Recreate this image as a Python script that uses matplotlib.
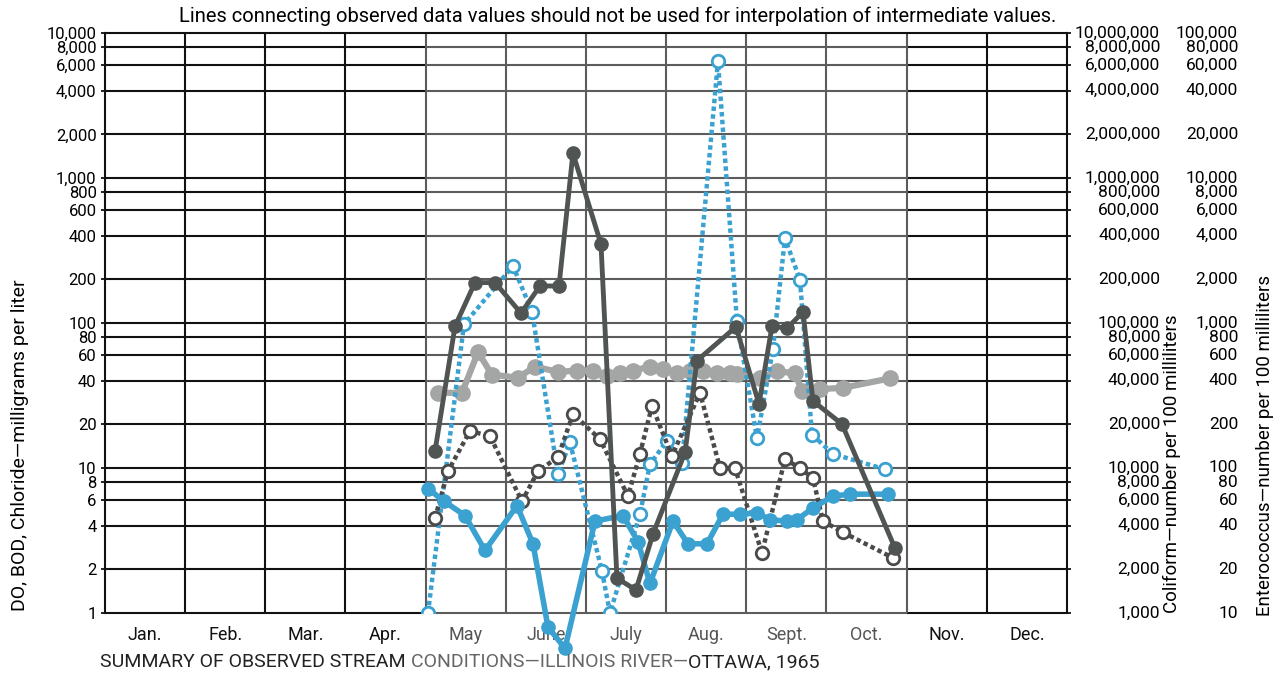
import matplotlib
matplotlib.use('Agg')
import matplotlib.pyplot as plt
import numpy as np

plt.rcParams['font.family'] = ['Roboto', 'DejaVu Sans']

# DATA (x = position in months from Jan 1, values in left-axis units)
months = ['Jan.', 'Feb.', 'Mar.', 'Apr.', 'May', 'June', 'July', 'Aug.', 'Sept.', 'Oct.', 'Nov.', 'Dec.']
left_ticks = [1, 2, 4, 6, 8, 10, 20, 40, 60, 80, 100, 200, 400, 600, 800, 1000, 2000, 4000, 6000, 8000, 10000]
left_labels = ['1', '2', '4', '6', '8', '10', '20', '40', '60', '80', '100', '200', '400', '600', '800',
               '1,000', '2,000', '4,000', '6,000', '8,000', '10,000']
coliform_labels = ['1,000', '2,000', '4,000', '6,000', '8,000', '10,000', '20,000', '40,000', '60,000', '80,000',
                   '100,000', '200,000', '400,000', '600,000', '800,000', '1,000,000', '2,000,000', '4,000,000',
                   '6,000,000', '8,000,000', '10,000,000']
entero_labels = ['10', '20', '40', '60', '80', '100', '200', '400', '600', '800', '1,000', '2,000', '4,000',
                 '6,000', '8,000', '10,000', '20,000', '40,000', '60,000', '80,000', '100,000']

chloride_x = [4.154, 4.453, 4.653, 4.827, 5.152, 5.364, 5.651, 5.888, 6.087, 6.262, 6.424, 6.586, 6.798, 6.960,
              7.135, 7.297, 7.459, 7.634, 7.796, 7.883, 8.170, 8.382, 8.607, 8.694, 8.919, 9.206, 9.792]
chloride_v = [33, 33, 63, 44, 42, 50, 46, 47, 47, 43, 45, 47, 50, 48, 45, 47, 47, 45, 45, 44.5, 41.5, 46.5, 45,
              34, 35, 35.7, 41.5]

coliform_x = [4.116, 4.366, 4.615, 4.865, 5.189, 5.426, 5.663, 5.837, 6.187, 6.386, 6.623, 6.835, 7.235, 7.384,
              7.871, 8.158, 8.320, 8.507, 8.707, 8.831, 9.193, 9.854]
coliform_v = [13, 95, 190, 190, 117, 180, 180, 1480, 350, 1.74, 1.44, 3.5, 12.8, 55, 94, 27.6, 95, 92, 119, 29,
              20.1, 2.8]

do_x = [4.029, 4.229, 4.490, 4.740, 5.139, 5.339, 5.526, 5.738, 6.112, 6.461, 6.649, 6.798, 7.085, 7.272, 7.509,
        7.709, 7.921, 8.133, 8.295, 8.507, 8.632, 8.831, 9.081, 9.293, 9.767]
do_v = [7.2, 5.9, 4.7, 2.7, 5.5, 3.0, 0.8, 0.57, 4.3, 4.7, 3.1, 1.6, 4.3, 3.0, 3.0, 4.8, 4.8, 4.9, 4.4, 4.3, 4.4,
        5.3, 6.4, 6.6, 6.6]

entero_x = [4.029, 4.478, 5.089, 5.326, 5.651, 5.800, 6.199, 6.299, 6.673, 6.798, 7.010, 7.197, 7.646, 7.883,
            8.133, 8.332, 8.482, 8.669, 8.819, 9.081, 9.729]
entero_v = [1.0, 98, 247, 120, 9.1, 15, 1.95, 1.0, 4.8, 10.6, 15.4, 10.8, 6400, 103, 16, 66, 385, 198, 17, 12.5,
            9.8]

bod_x = [4.116, 4.278, 4.553, 4.802, 5.201, 5.401, 5.651, 5.838, 6.174, 6.524, 6.673, 6.823, 7.072, 7.422, 7.671,
         7.858, 8.195, 8.482, 8.669, 8.831, 8.956, 9.206, 9.829]
bod_v = [4.5, 9.5, 18, 16.6, 5.9, 9.5, 11.9, 23.6, 15.8, 6.4, 12.5, 26.8, 12.1, 33, 10, 10, 2.6, 11.5, 10, 8.5,
         4.3, 3.6, 2.4]

BLUE = '#3aa1d0'
DARK = '#505553'
LIGHT = '#a3a6a4'
GRIDGRAY = '#5c5c5c'
NUMSIZE = 12

fig = plt.figure(figsize=(12.81, 6.76), dpi=100)
ax = fig.add_axes([105 / 1281, 1 - 613 / 676, 962 / 1281, 580 / 676])
ax.set_yscale('log')
ax.set_xlim(0, 12)
ax.set_ylim(1, 10000)

# grid: black outside May-Oct, gray inside
hvals = left_ticks[:-1]
ax.hlines(hvals, 0, 4, colors='#111111', lw=1.5, zorder=1, clip_on=False)
ax.hlines(hvals, 4, 10, colors=GRIDGRAY, lw=1.5, zorder=1, clip_on=False)
ax.hlines(hvals, 10, 12, colors='#111111', lw=1.5, zorder=1, clip_on=False)
ax.vlines([1, 2, 3, 11], 1, 10000, colors='#111111', lw=1.5, zorder=1)
ax.vlines([4, 5, 6, 7, 8, 9, 10], 1, 10000, colors=GRIDGRAY, lw=1.5, zorder=1)
for side in ['left', 'right', 'top']:
    ax.spines[side].set_linewidth(1.5)
    ax.spines[side].set_color('#111111')
ax.spines['bottom'].set_visible(False)

# series
ax.plot(chloride_x, chloride_v, color=LIGHT, lw=4.5, marker='o', ms=11, zorder=2)
ax.plot(entero_x, entero_v, color=BLUE, lw=3.2, ls=(0, (1, 0.75)), marker='o', ms=9, mfc='white',
        mec=BLUE, mew=2, zorder=3)
ax.plot(bod_x, bod_v, color='#4a4a4a', lw=3.2, ls=(0, (1, 0.75)), marker='o', ms=9, mfc='white',
        mec='#4a4a4a', mew=2, zorder=4)
ax.plot(do_x, do_v, color=BLUE, lw=4, marker='o', ms=9.5, zorder=5, clip_on=False)
ax.plot(coliform_x, coliform_v, color=DARK, lw=3.5, marker='o', ms=9.5, zorder=6)

# left ticks
ax.yaxis.set_minor_locator(matplotlib.ticker.NullLocator())
ax.set_yticks(left_ticks)
ax.set_yticklabels(left_labels, fontsize=NUMSIZE)
ax.tick_params(axis='y', length=3, width=1.2, pad=3, right=True)

# months
ax.set_xticks(np.arange(12) + 0.5)
ax.set_xticklabels(months, fontsize=13)
ax.tick_params(axis='x', length=0, pad=9)
for i, lab in enumerate(ax.get_xticklabels()):
    lab.set_color('#555555' if 4 <= i <= 9 else '#111111')

# right-hand scales
ytr = ax.get_yaxis_transform()
for val, c_lab, e_lab in zip(left_ticks, coliform_labels, entero_labels):
    ax.text(1.0967, val, c_lab, transform=ytr, ha='right', va='center', fontsize=NUMSIZE + 0.5)
    ax.text(1.1778, val, e_lab, transform=ytr, ha='right', va='center', fontsize=NUMSIZE + 0.5)

fig.text(20 / 1281, 1 - 445 / 676, 'DO, BOD, Chloride\u2014milligrams per liter', rotation=90,
         ha='center', va='center', fontsize=14)
fig.text(1172 / 1281, 1 - 464 / 676, 'Coliform\u2014number per 100 milliliters', rotation=90,
         ha='center', va='center', fontsize=13.5)
fig.text(1265 / 1281, 1 - 446 / 676, 'Enterococcus\u2014number per 100 milliliters', rotation=90,
         ha='center', va='center', fontsize=13.5)

fig.text(618 / 1281, 1 - 16 / 676,
         'Lines connecting observed data values should not be used for interpolation of intermediate values.',
         ha='center', va='center', fontsize=14.5)

# bottom caption in three pieces, chained left to right
renderer = fig.canvas.get_renderer()
pieces = [('SUMMARY OF OBSERVED STREAM ', '#222222'),
          ('CONDITIONS\u2014ILLINOIS RIVER\u2014', '#666666'),
          ('OTTAWA, 1965', '#222222')]
xpos = 100
for txt, col in pieces:
    t = fig.text(xpos / 1281, 1 - 662 / 676, txt, ha='left', va='center', fontsize=14, color=col)
    xpos = t.get_window_extent(renderer=renderer).x1

plt.savefig('out.png', dpi=100)
